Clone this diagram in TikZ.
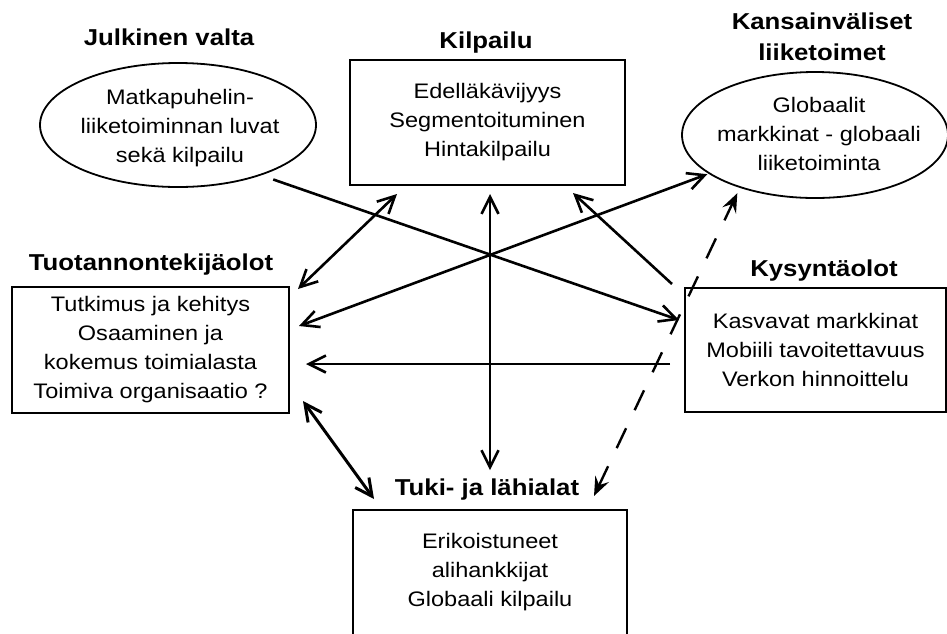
\documentclass[tikz,border=0pt]{standalone}
\usepackage{fontspec}
\setmainfont{Liberation Sans}[FakeStretch=1.12]
\usetikzlibrary{calc,arrows.meta,shapes.geometric}
\tikzset{
	txt/.style={font=\fontsize{21}{29}\selectfont, align=center, inner sep=0pt},
	head/.style={font=\bfseries\fontsize{23}{31}\selectfont, align=center, inner sep=0pt},
	factorbox/.style={txt, draw, line width=2pt, minimum height=125pt},
	oval/.style={draw, ellipse, line width=1.8pt, inner sep=0pt},
	oneway/.style={line width=2.6pt, -{Straight Barb[length=17pt,width=17pt]}},
	twoway/.style={line width=2.6pt, {Straight Barb[length=17pt,width=17pt]}-{Straight Barb[length=17pt,width=17pt]}},
	dashway/.style={line width=2.4pt, dash pattern=on 22pt off 20pt, {Stealth[length=19pt,width=15pt,inset=7pt]}-{Stealth[length=19pt,width=15pt,inset=7pt]}}
}

\begin{document}
\begin{tikzpicture}[x=1pt,y=-1pt]
	%%%%% START %%%%%
	\useasboundingbox (0,0) rectangle (947,633);

	\node[head, anchor=base] (jvT) at (169,45) {Julkinen valta};
	\node[oval, minimum width=276pt, minimum height=124pt] (jv) at (178,125) {};
	\node[txt] (jvX) at (180,128) {Matkapuhelin-\\liiketoiminnan luvat\\sekä kilpailu};

	\node[head, anchor=base] (kilpT) at (486,48) {Kilpailu};
	\node[factorbox, minimum width=275pt] (kilp) at (487.5,122.5) {Edelläkävijyys\\Segmentoituminen\\Hintakilpailu};

	\node[head] (kvT) at (822,37) {Kansainväliset\\liiketoimet};
	\node[oval, minimum width=266pt, minimum height=126pt] (kv) at (815,135) {};
	\node[txt] (kvX) at (819,134) {Globaalit\\markkinat - globaali\\liiketoiminta};

	\node[head, anchor=base] (tuotT) at (151,270) {Tuotannontekijäolot};
	\node[factorbox, minimum width=277pt, minimum height=126pt] (tuot) at (150.5,350) {Tutkimus ja kehitys\\Osaaminen ja\\kokemus toimialasta\\Toimiva organisaatio ?};

	\node[head, anchor=base] (kysT) at (824,276) {Kysyntäolot};
	\node[factorbox, minimum width=261pt, minimum height=124pt] (kys) at (815.5,350) {Kasvavat markkinat\\Mobiili tavoitettavuus\\Verkon hinnoittelu};

	\node[head, anchor=base] (tukiT) at (487,495) {Tuki- ja lähialat};
	\node[factorbox, minimum width=274pt] (tuki) at (490,572.5) {Erikoistuneet\\alihankkijat\\Globaali kilpailu};

	% yhteydet
	\draw[oneway] ($(jv.south east)+(-3,10)$) -- ($(kys.west)+(-5,-30)$);
	\draw[twoway] ($(kilp.south west)+(48,8)$) -- ($(tuot.north east)+(8,3)$);
	\draw[twoway] ($(tuot.east)+(9,-24)$) -- ($(kv.south west)+(-13,-6)$);
	\draw[twoway] ($(kilp.south)+(2.5,8)$) -- ($(tukiT.north)+(3,-8)$);
	\draw[oneway] ($(kys.north west)+(-12,-3)$) -- ($(kilp.south east)+(-53,7)$);
	\draw[oneway] ($(kys.west)+(-14,14)$) -- ($(tuot.east)+(16,14)$);
	\draw[twoway, line width=3pt] ($(tuot.south east)+(13,-13)$) -- ($(tuki.north west)+(22,-10)$);
	\draw[dashway] ($(tuki.north east)+(-34,-13)$) -- ($(kv.south west)+(17,13)$);

	%%%%% END %%%%%
\end{tikzpicture}
\end{document}
